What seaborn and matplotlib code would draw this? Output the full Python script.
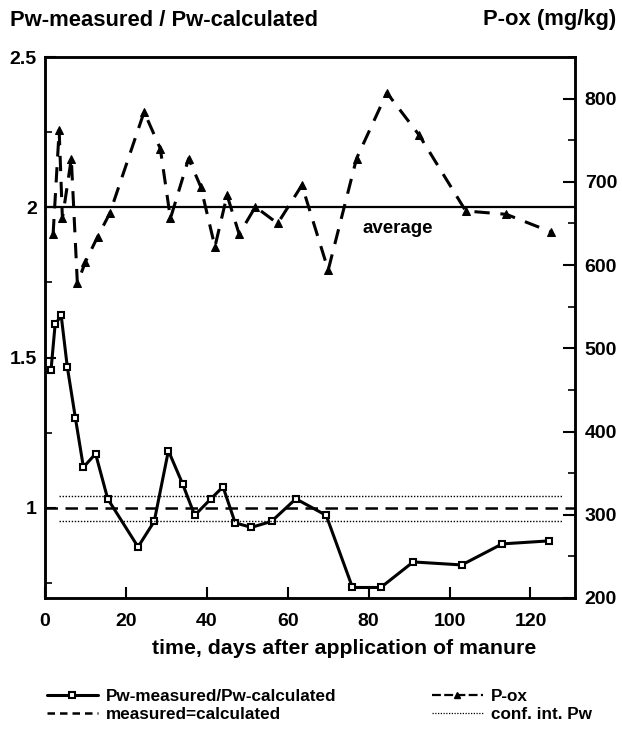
import matplotlib
matplotlib.use("Agg")
import matplotlib.pyplot as plt
from matplotlib.lines import Line2D
from matplotlib.ticker import MultipleLocator
import seaborn as sns
import pandas as pd

# ---- data ----
pw_day = [1.5, 2.5, 4, 5.5, 7.5, 9.5, 12.5, 15.5, 23, 27, 30.5, 34, 37, 41, 44,
          47, 51, 56, 62, 69.5, 76, 83, 91, 103, 113, 124.5]
pw_ratio = [1.46, 1.61, 1.64, 1.47, 1.30, 1.135, 1.18, 1.03, 0.87, 0.955, 1.19,
            1.08, 0.975, 1.03, 1.07, 0.95, 0.935, 0.955, 1.03, 0.975, 0.735,
            0.735, 0.82, 0.81, 0.88, 0.89]
pox_day = [2, 3.5, 4.3, 6.5, 8, 10, 13, 16, 24.5, 28.5, 31, 35.5, 38.5, 42, 45,
           48, 52, 57.5, 63.5, 70, 77, 84.5, 92.5, 104, 114, 125]
pox_val = [637, 762, 656, 728, 578, 604, 634, 662, 784, 740, 656, 728, 694, 622,
           684, 637, 670, 650, 696, 594, 728, 807, 756, 665, 661, 640]
pox_average = 670
measured_equals_calculated = 1.0
conf_upper = 1.04
conf_lower = 0.957

left_title = "Pw-measured / Pw-calculated"
right_title = "P-ox (mg/kg)"
x_label = "time, days after application of manure"
legend_labels = ["Pw-measured/Pw-calculated", "measured=calculated", "P-ox", "conf. int. Pw"]

sns.set_style("ticks")
plt.rcParams['font.family'] = ['Liberation Sans', 'DejaVu Sans']
plt.rcParams['font.weight'] = 'bold'
for k in ['text.color', 'axes.labelcolor', 'xtick.color', 'ytick.color', 'axes.edgecolor']:
    plt.rcParams[k] = 'black'

fig = plt.figure(figsize=(6.22, 7.33), dpi=100)
ax = fig.add_axes([45/622, 1-598/733, (575-45)/622, (598-57)/733])
ax2 = ax.twinx()

df_pw = pd.DataFrame({"day": pw_day, "ratio": pw_ratio})
df_pox = pd.DataFrame({"day": pox_day, "pox": pox_val})

pw_style = dict(color='black', lw=2.2, marker='s', markersize=5,
                markerfacecolor='white', markeredgecolor='black', markeredgewidth=1.5)
pox_style = dict(color='black', lw=2.2, linestyle=(0, (5, 3.5)), marker='^',
                 markersize=6, markerfacecolor='black', markeredgecolor='black')

sns.lineplot(data=df_pw, x="day", y="ratio", ax=ax, legend=False, **pw_style)
sns.lineplot(data=df_pox, x="day", y="pox", ax=ax2, legend=False, **pox_style)

ax2.axhline(pox_average, color='black', lw=1.6)
ax.axhline(measured_equals_calculated, color='black', lw=1.8, linestyle=(0, (5, 3)))
ax.hlines([conf_upper, conf_lower], 3.5, 128, color='black', lw=1.0, linestyles=(0, (1, 1.2)))

ax.set_xlim(0, 131)
ax.set_ylim(0.7, 2.5)
ax2.set_ylim(200, 850)

ax.xaxis.set_major_locator(MultipleLocator(20))
ax.yaxis.set_major_locator(MultipleLocator(0.5))
ax.yaxis.set_minor_locator(MultipleLocator(0.25))
ax2.yaxis.set_major_locator(MultipleLocator(100))
ax2.yaxis.set_minor_locator(MultipleLocator(50))
ax.set_yticks([1, 1.5, 2, 2.5])
ax.set_yticklabels(["1", "1.5", "2", "2.5"])

ax.tick_params(axis='both', which='major', direction='in', length=8, width=1.5,
               labelsize=14)
ax.tick_params(axis='y', which='minor', direction='in', length=5, width=1.2)
ax.tick_params(axis='x', pad=11)
ax.tick_params(axis='y', pad=6)
ax2.tick_params(axis='y', which='major', direction='in', length=9, width=1.5,
                labelsize=14, pad=7)
ax2.tick_params(axis='y', which='minor', direction='in', length=5, width=1.2)

for a in (ax, ax2):
    for s in a.spines.values():
        s.set_linewidth(1.8)
        s.set_color('black')

ax.set_xlabel(x_label, fontsize=15.3, fontweight='bold')
ax.xaxis.set_label_coords((344-45)/530, -(648-598)/541, transform=ax.transAxes)
ax.xaxis.label.set_va('center')
ax.set_ylabel("")
ax2.set_ylabel("")

fig.text(10/622, 1-20/733, left_title, fontsize=15.8, fontweight='bold', ha='left', va='center')
fig.text(616/622, 1-20/733, right_title, fontsize=15.8, fontweight='bold', ha='right', va='center')
ax.text(78.5, 1.93, "average", fontsize=13.5, fontweight='bold', ha='left', va='center')

handles = [
    Line2D([], [], **{**pw_style, 'markersize': 4}),
    Line2D([], [], color='black', lw=1.8, linestyle=(0, (3, 2))),
    Line2D([], [], **{**pox_style, 'markersize': 5, 'lw': 1.6, 'linestyle': (0, (4, 1.5))}),
    Line2D([], [], color='black', lw=0.9, linestyle=(0, (1, 1.2))),
]
fig.legend(handles, legend_labels, ncol=2, loc='upper left',
           bbox_to_anchor=(38/622, 1-680/733), frameon=False, fontsize=12.3,
           handlelength=3.0, handletextpad=0.45, columnspacing=5.6,
           labelspacing=0.22, borderpad=0, markerscale=1)

fig.savefig("out.png", dpi=100)
